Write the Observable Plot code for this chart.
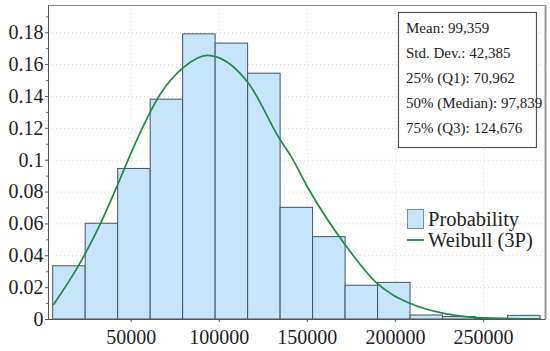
<!DOCTYPE html>
<html><head><meta charset="utf-8">
<script src="https://cdn.jsdelivr.net/npm/d3@7"></script>
<script src="https://cdn.jsdelivr.net/npm/@observablehq/plot@0.6"></script>
<style>
body{margin:0;background:#fff;}
#chart{width:550px;height:351px;}
#chart svg, #chart svg text{font-family:"Liberation Serif","Times New Roman",serif !important;}
</style></head><body><div id="chart"></div>
<script>
// Histogram bin edges (data units) and bar probabilities
const binEdges = [5720, 24160, 42600, 61050, 79490, 97930, 116380, 134820, 153260, 171710, 190150, 208590, 227030, 245480, 263920, 282360];
const probability = [0.0334, 0.0601, 0.0945, 0.138, 0.1790, 0.1732, 0.1543, 0.0701, 0.0517, 0.0212, 0.0230, 0.0025, 0.0015, 0.0005, 0.0023];
// Weibull (3P) fitted curve
const curveX = [6060, 20250, 32570, 42960, 50570, 66630, 79860, 93140, 98820, 116760, 134760, 140430, 149910, 171660, 189650, 208560, 227460, 246420, 263450, 282360];
const curveY = [0.0096, 0.0341, 0.0602, 0.0863, 0.1062, 0.1417, 0.1584, 0.1658, 0.1647, 0.148, 0.1125, 0.103, 0.0835, 0.0466, 0.0226, 0.0100, 0.0038, 0.0012, 0.0006, 0.0004];
const xTicks = [50000, 100000, 150000, 200000, 250000];
const yTicks = [0, 0.02, 0.04, 0.06, 0.08, 0.1, 0.12, 0.14, 0.16, 0.18];
const yMinor = [0.01, 0.03, 0.05, 0.07, 0.09, 0.11, 0.13, 0.15, 0.17, 0.19];
const statsLabels = ["Mean: 99,359", "Std. Dev.: 42,385", "25% (Q1): 70,962", "50% (Median): 97,839", "75% (Q3): 124,676"];
const legendLabels = ["Probability", "Weibull (3P)"];

const barFill = "#c6e5fa";
const barStroke = "#45535e";
const curveColor = "#1f8a45";
const serif = "'Liberation Serif', 'Times New Roman', serif";

const bins = probability.map((p, i) => ({x1: binEdges[i], x2: binEdges[i + 1], p}));
const curve = curveX.map((x, i) => ({x, y: curveY[i]}));

const overlay = (index, scales, values, dims) => {
  const g = d3.create("svg:g").attr("font-family", serif).attr("fill", "#222").attr("text-anchor", "start");
  // stats box
  g.append("rect").attr("x", 398.5).attr("y", 12.5).attr("width", 138).attr("height", 135)
    .attr("fill", "#fff").attr("stroke", "#555").attr("stroke-width", 1.2);
  g.selectAll("text.stat").data(statsLabels).join("text").attr("class", "stat")
    .attr("x", 406).attr("y", (d, i) => 33 + i * 25)
    .attr("font-size", 15).text(d => d);
  // legend
  g.append("rect").attr("x", 407.5).attr("y", 209.5).attr("width", 16).attr("height", 19)
    .attr("fill", barFill).attr("stroke", "#7d8c97").attr("stroke-width", 1);
  g.append("line").attr("x1", 407).attr("x2", 424).attr("y1", 240).attr("y2", 240)
    .attr("stroke", curveColor).attr("stroke-width", 1.8);
  g.selectAll("text.leg").data(legendLabels).join("text").attr("class", "leg")
    .attr("x", 428).attr("y", (d, i) => 226 + i * 21)
    .attr("font-size", 20.5).text(d => d);
  return g.node();
};

const chart = Plot.plot({
  width: 550, height: 351,
  marginLeft: 48, marginTop: 5, marginRight: 5, marginBottom: 32,
  style: {fontFamily: serif, fontSize: "20px", color: "#222", background: "#fff"},
  x: {domain: [3050, 285200]},
  y: {domain: [0, 0.1971]},
  marks: [
    Plot.gridY(yTicks.slice(1), {stroke: "#d4d4d4", strokeOpacity: 1, strokeDasharray: "1,3"}),
    Plot.gridX(xTicks, {stroke: "#d4d4d4", strokeOpacity: 1, strokeDasharray: "1,3"}),
    Plot.rectY(bins, {x1: "x1", x2: "x2", y: "p", fill: barFill, stroke: barStroke, strokeWidth: 1}),
    Plot.line(curve, {x: "x", y: "y", stroke: curveColor, strokeWidth: 1.7, curve: "monotone-x"}),
    Plot.axisY(yMinor, {tickSize: 2, text: null, stroke: "#666"}),
    Plot.axisY(yTicks, {tickSize: 3, tickPadding: 2, stroke: "#555", fontSize: 20, tickFormat: d => String(+d.toFixed(2)), label: null}),
    Plot.axisX(xTicks, {tickSize: 3, tickPadding: 7, stroke: "#555", fontSize: 20, tickFormat: d => String(d), label: null}),
    Plot.frame({stroke: "#888", strokeWidth: 1}),
    Plot.ruleX([3050], {stroke: "#555", strokeWidth: 1}),
    Plot.ruleY([0], {stroke: "#555", strokeWidth: 1}),
    Plot.ruleX([285200], {stroke: "#999", strokeWidth: 2}),
    overlay
  ]
});
document.getElementById("chart").append(chart);
</script></body></html>
